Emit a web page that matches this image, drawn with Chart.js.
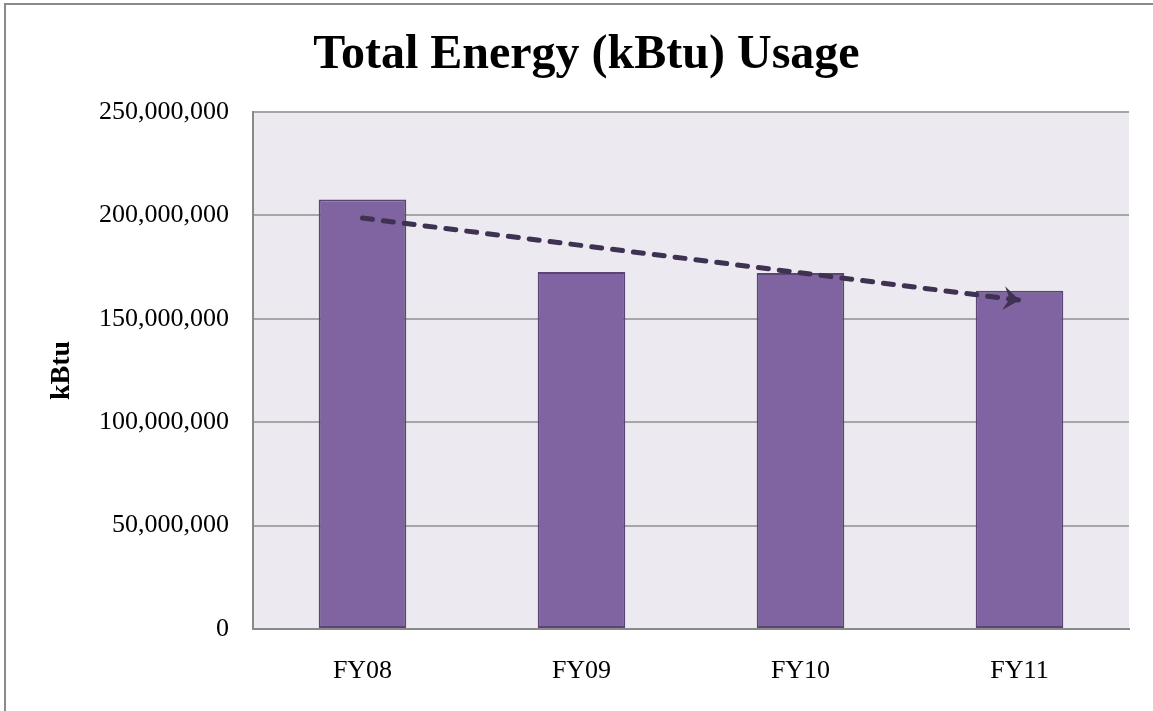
<!DOCTYPE html>
<html>
<head>
<meta charset="utf-8">
<script src="https://cdn.jsdelivr.net/npm/chart.js@4.4.1/dist/chart.umd.min.js"></script>
<style>
html,body{margin:0;padding:0;background:#fff;overflow:hidden;}
canvas{display:block;}
</style>
</head>
<body>
<canvas id="c" width="1153" height="711"></canvas>
<script>
const categories = ['FY08', 'FY09', 'FY10', 'FY11'];
const energyKbtu = [207700000, 172600000, 172100000, 163600000];
const trendKbtu = [198700000, null, null, 159000000];
const yTickValues = [0, 50000000, 100000000, 150000000, 200000000, 250000000];

const SERIF = '"Liberation Serif", "Times New Roman", serif';

const framePlugin = {
  id: 'frame',
  beforeDraw(chart) {
    const ctx = chart.ctx;
    const a = chart.chartArea;
    ctx.save();
    ctx.fillStyle = '#ffffff';
    ctx.fillRect(0, 0, chart.width, chart.height);
    ctx.strokeStyle = '#8a8a8a';
    ctx.lineWidth = 2;
    ctx.strokeRect(5, 4, 1300, 900);
    ctx.fillStyle = '#ECEAF0';
    ctx.fillRect(a.left, a.top, a.right - a.left, a.bottom - a.top);
    ctx.restore();
  }
};

const arrowPlugin = {
  id: 'arrowHead',
  afterDatasetsDraw(chart) {
    const meta = chart.getDatasetMeta(1);
    const pts = meta.data.filter((p, i) => trendKbtu[i] !== null);
    if (pts.length < 2) return;
    const p0 = pts[pts.length - 2], p1 = pts[pts.length - 1];
    const ang = Math.atan2(p1.y - p0.y, p1.x - p0.x);
    const ctx = chart.ctx;
    ctx.save();
    ctx.translate(p1.x, p1.y);
    ctx.rotate(ang);
    ctx.fillStyle = '#3F3151';
    ctx.beginPath();
    ctx.moveTo(0, 0);
    ctx.lineTo(-16, -12);
    ctx.lineTo(-10, 0);
    ctx.lineTo(-16, 12);
    ctx.closePath();
    ctx.fill();
    ctx.restore();
  }
};

new Chart(document.getElementById('c'), {
  data: {
    labels: categories,
    datasets: [
      {
        type: 'bar',
        data: energyKbtu,
        backgroundColor: '#8064A2',
        borderColor: '#5A4676',
        borderWidth: 2,
        borderSkipped: false,
        categoryPercentage: 1.0,
        barPercentage: 0.4,
        order: 2
      },
      {
        type: 'line',
        data: trendKbtu,
        spanGaps: true,
        borderColor: '#3F3151',
        borderWidth: 5,
        borderDash: [10, 11],
        borderCapStyle: 'round',
        pointRadius: 0,
        fill: false,
        order: 1
      }
    ]
  },
  options: {
    responsive: false,
    animation: false,
    devicePixelRatio: 1,
    layout: { padding: { left: 44, right: 24, top: 0, bottom: 0 } },
    plugins: {
      legend: { display: false },
      tooltip: { enabled: false },
      title: {
        display: true,
        text: 'Total Energy (kBtu) Usage',
        color: '#000',
        font: { family: SERIF, size: 48, weight: 'bold', lineHeight: 1.2 },
        padding: { top: 27, bottom: 27.4 }
      }
    },
    scales: {
      x: {
        grid: { display: false, drawTicks: false },
        border: { display: true, color: '#8a8a8a', width: 2 },
        ticks: { color: '#000', font: { family: SERIF, size: 26 }, padding: 27 },
        afterFit(scale) { scale.height = 82; }
      },
      y: {
        min: 0,
        max: 250000000,
        afterBuildTicks(scale) { scale.ticks = yTickValues.map(v => ({ value: v })); },
        grid: { color: '#A6A6A6', lineWidth: 2, drawTicks: false },
        border: { display: true, color: '#8a8a8a', width: 2 },
        ticks: {
          color: '#000',
          font: { family: SERIF, size: 26 },
          padding: 24,
          callback: v => Number(v).toLocaleString('en-US')
        },
        title: {
          display: true,
          text: 'kBtu',
          color: '#000',
          font: { family: SERIF, size: 28, weight: 'bold', lineHeight: 1 },
          padding: { top: 4, bottom: 0 }
        },
        afterFit(scale) { scale.width = 209; }
      }
    }
  },
  plugins: [framePlugin, arrowPlugin]
});
</script>
</body>
</html>
